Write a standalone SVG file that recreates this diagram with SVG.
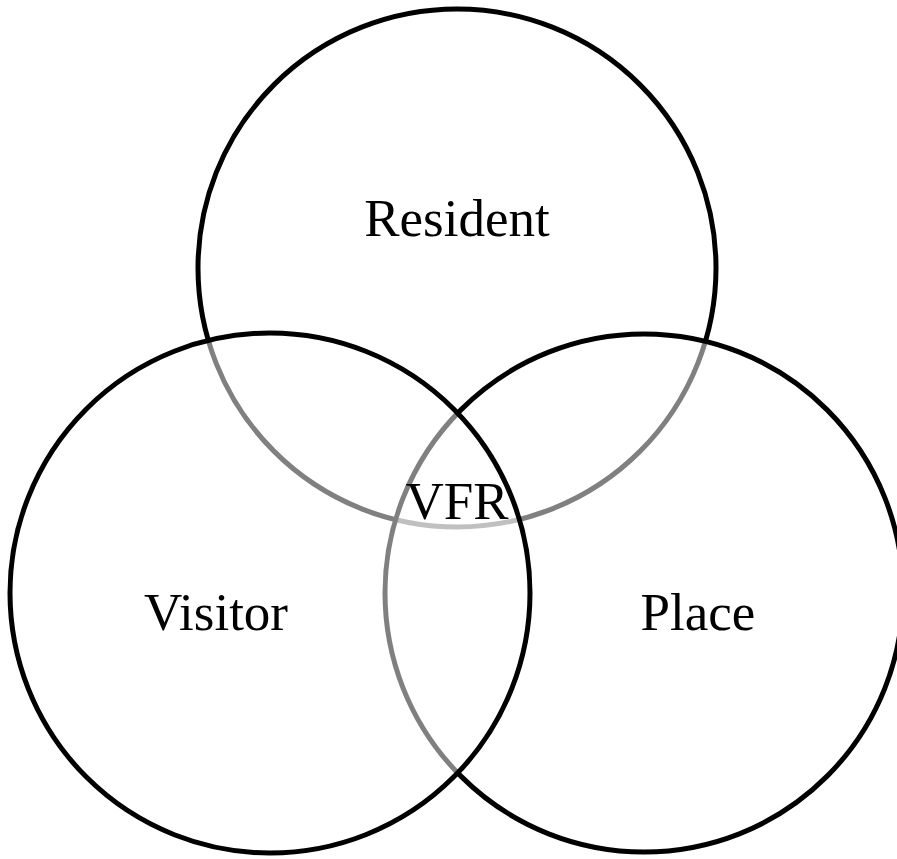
<svg xmlns="http://www.w3.org/2000/svg" width="897" height="859" viewBox="0 0 897 859">
<style>
.c{fill:#ffffff;fill-opacity:0.5;stroke:#000;stroke-width:5}
.t{font-family:"Liberation Serif","Times New Roman",serif;font-size:53px;fill:#000;text-anchor:middle}
</style>
<rect width="897" height="859" fill="#fff"/>
<g id="resident"><circle class="c" cx="457" cy="268" r="259"/></g>
<g id="place"><circle class="c" cx="644" cy="593" r="259"/></g>
<g id="visitor"><circle class="c" cx="270" cy="593" r="260"/></g>
<g id="labels">
<text class="t" x="457" y="236">Resident</text>
<text class="t" x="216" y="630">Visitor</text>
<text class="t" x="698" y="630">Place</text>
<text class="t" x="457" y="519">VFR</text>
</g>
</svg>
